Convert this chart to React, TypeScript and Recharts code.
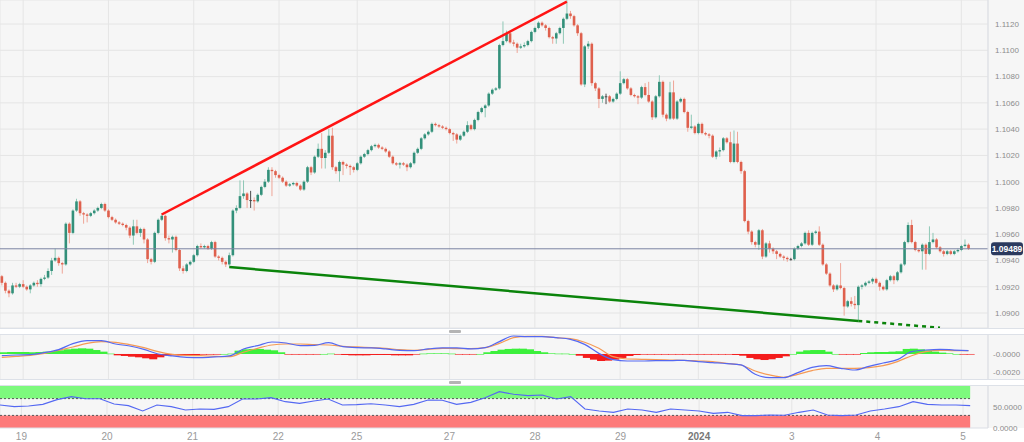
import React from "react";
import {
  Bar,
  CartesianGrid,
  ComposedChart,
  Line,
  ReferenceArea,
  ReferenceLine,
  XAxis,
  YAxis,
} from "recharts";

// EUR/USD hourly candles, 19 Dec 2023 - 5 Jan 2024 (open = previous close)
const firstOpen = 1.0928;

const closes = [
  1.0923, 1.0917, 1.0915, 1.0921, 1.092, 1.0922, 1.092, 1.0918, 1.0921, 1.0923, 1.0922, 1.0926,
  1.0927, 1.0932, 1.094, 1.0942, 1.0938, 1.0937, 1.0968, 1.0961, 1.0978, 1.0985, 1.0976, 1.0975,
  1.0974, 1.0976, 1.0978, 1.098, 1.0983, 1.0978, 1.0973, 1.0971, 1.0969, 1.0968, 1.0967, 1.0965,
  1.0959, 1.0966, 1.0961, 1.0964, 1.0956, 1.0941, 1.0939, 1.0961, 1.0971, 1.0974, 1.0957, 1.0956,
  1.0958, 1.0948, 1.0934, 1.0932, 1.0937, 1.0939, 1.0944, 1.0951, 1.095, 1.0951, 1.0949, 1.0954,
  1.0943, 1.0942, 1.0939, 1.0937, 1.0944, 1.0978, 1.098, 1.0989, 1.0991, 1.0986, 1.0986, 1.0985,
  1.099, 1.0996, 1.1, 1.1009, 1.1008, 1.1005, 1.1003, 1.1, 1.0997, 1.0998, 1.0999, 1.0997,
  1.0994, 1.1, 1.1011, 1.1007, 1.1019, 1.1025, 1.1018, 1.1022, 1.1035, 1.1011, 1.1008, 1.1015,
  1.1013, 1.1012, 1.1011, 1.1009, 1.1014, 1.1019, 1.1021, 1.1024, 1.1027, 1.1028, 1.1026, 1.1025,
  1.1023, 1.1019, 1.1014, 1.1013, 1.1014, 1.1013, 1.1011, 1.1014, 1.1022, 1.1025, 1.1033, 1.1036,
  1.1038, 1.1044, 1.1043, 1.1042, 1.1041, 1.104, 1.1037, 1.1036, 1.1032, 1.1035, 1.1038, 1.1043,
  1.104, 1.1047, 1.1053, 1.1056, 1.1058, 1.1067, 1.107, 1.1071, 1.1104, 1.1107, 1.1113, 1.1106,
  1.1105, 1.1102, 1.1103, 1.1104, 1.1107, 1.1114, 1.1117, 1.1121, 1.1119, 1.1117, 1.111, 1.1109,
  1.1113, 1.1117, 1.1124, 1.1128, 1.1126, 1.1119, 1.1113, 1.1074, 1.1103, 1.1105, 1.1075, 1.1071,
  1.1063, 1.1065, 1.1065, 1.1061, 1.1063, 1.1067, 1.1075, 1.1078, 1.1071, 1.1066, 1.1065, 1.1064,
  1.1072, 1.1066, 1.1061, 1.1049, 1.1065, 1.1076, 1.1051, 1.1048, 1.1068, 1.1048, 1.1061, 1.1063,
  1.1053, 1.1041, 1.1042, 1.1037, 1.1044, 1.1037, 1.1036, 1.1035, 1.1019, 1.1023, 1.1024, 1.1033,
  1.103, 1.1015, 1.1029, 1.1015, 1.1008, 1.097, 1.0962, 1.0954, 1.0952, 1.0963, 1.0943, 1.0953,
  1.0949, 1.0947, 1.0945, 1.0943, 1.0942, 1.0941, 1.0941, 1.0949, 1.0951, 1.0953, 1.0961, 1.0952,
  1.0961, 1.0962, 1.0952, 1.0937, 1.093, 1.0921, 1.0918, 1.0921, 1.0919, 1.0905, 1.0909, 1.0907,
  1.0906, 1.092, 1.0921, 1.0923, 1.0924, 1.0926, 1.0923, 1.092, 1.0918, 1.0925, 1.0928, 1.0925,
  1.0931, 1.0937, 1.0954, 1.0967, 1.0954, 1.0948, 1.0947, 1.0952, 1.0945, 1.0954, 1.0956, 1.095,
  1.0947, 1.0945, 1.0947, 1.0945, 1.0947, 1.0948, 1.0951, 1.0952, 1.09489,
];

const highs = [
  1.0929, 1.0924, 1.0918, 1.0923, 1.0923, 1.0923, 1.0925, 1.0921, 1.0922, 1.0924, 1.0925, 1.0927,
  1.0929, 1.0934, 1.0942, 1.0949, 1.0943, 1.0939, 1.0969, 1.0969, 1.0979, 1.0987, 1.0986, 1.0977,
  1.0976, 1.0977, 1.0979, 1.0981, 1.0984, 1.0984, 1.0979, 1.0974, 1.0972, 1.097, 1.0969, 1.0968,
  1.0966, 1.0971, 1.0971, 1.0965, 1.0965, 1.0957, 1.0942, 1.0962, 1.0972, 1.0976, 1.0975, 1.0959,
  1.0959, 1.0959, 1.0949, 1.0936, 1.0938, 1.094, 1.0945, 1.0952, 1.0953, 1.0952, 1.0952, 1.0955,
  1.0955, 1.0944, 1.0943, 1.094, 1.0946, 1.0979, 1.0982, 1.1001, 1.1001, 1.0992, 1.0993, 1.0988,
  1.0991, 1.0997, 1.1002, 1.1011, 1.1011, 1.1009, 1.1006, 1.1004, 1.1001, 1.0999, 1.1, 1.1,
  1.0998, 1.1001, 1.1012, 1.1012, 1.102, 1.1029, 1.1037, 1.1024, 1.104, 1.1041, 1.1012, 1.1016,
  1.1016, 1.1014, 1.1013, 1.1012, 1.1015, 1.102, 1.1022, 1.1025, 1.1028, 1.1029, 1.1029, 1.1027,
  1.1026, 1.1024, 1.102, 1.1015, 1.1015, 1.1015, 1.1014, 1.1015, 1.1023, 1.1026, 1.1034, 1.1037,
  1.1039, 1.1045, 1.1045, 1.1044, 1.1043, 1.1042, 1.1041, 1.1038, 1.1037, 1.1036, 1.1039, 1.1046,
  1.1044, 1.1048, 1.1054, 1.1057, 1.1059, 1.1068, 1.1071, 1.1072, 1.1105, 1.1122, 1.1115, 1.1114,
  1.1108, 1.1106, 1.1105, 1.1106, 1.1108, 1.1115, 1.1118, 1.1122, 1.1122, 1.112, 1.1118, 1.1111,
  1.1114, 1.1118, 1.1125, 1.1138, 1.113, 1.1127, 1.112, 1.1114, 1.1104, 1.1107, 1.1106, 1.1076,
  1.1072, 1.1066, 1.1067, 1.1066, 1.1064, 1.1068, 1.1084, 1.1079, 1.1079, 1.1072, 1.1067, 1.1066,
  1.1073, 1.1075, 1.1076, 1.1062, 1.1066, 1.1081, 1.1077, 1.1052, 1.1076, 1.1077, 1.1062, 1.1064,
  1.1064, 1.1054, 1.1051, 1.1043, 1.1045, 1.1045, 1.1038, 1.1037, 1.1036, 1.1024, 1.1026, 1.1034,
  1.1034, 1.1038, 1.1039, 1.1038, 1.1016, 1.1009, 1.0971, 1.0963, 1.0955, 1.0964, 1.0964, 1.0954,
  1.0955, 1.095, 1.0948, 1.0946, 1.0944, 1.0943, 1.0942, 1.095, 1.0952, 1.0954, 1.0962, 1.0963,
  1.0962, 1.0963, 1.0966, 1.0953, 1.0938, 1.0931, 1.0922, 1.0922, 1.0938, 1.092, 1.091, 1.0912,
  1.0913, 1.0921, 1.0922, 1.0924, 1.0925, 1.0927, 1.0927, 1.0924, 1.0921, 1.0926, 1.0929, 1.0929,
  1.0932, 1.0938, 1.0955, 1.0969, 1.0971, 1.0955, 1.0949, 1.0953, 1.0953, 1.0966, 1.0961, 1.0957,
  1.0951, 1.0948, 1.0948, 1.0948, 1.0948, 1.0949, 1.0952, 1.0956, 1.0953,
];

const lows = [
  1.0921, 1.0915, 1.0912, 1.0914, 1.0919, 1.0919, 1.0919, 1.0917, 1.0915, 1.092, 1.092, 1.092,
  1.0925, 1.0926, 1.0929, 1.0939, 1.0936, 1.093, 1.0936, 1.0953, 1.096, 1.0977, 1.0974, 1.0968,
  1.0969, 1.0973, 1.0975, 1.0977, 1.0979, 1.0977, 1.0972, 1.097, 1.0968, 1.0967, 1.0966, 1.0963,
  1.0957, 1.0952, 1.096, 1.0958, 1.0953, 1.0938, 1.0937, 1.0938, 1.096, 1.097, 1.0955, 1.0953,
  1.0946, 1.0947, 1.0932, 1.093, 1.0931, 1.0936, 1.0938, 1.0943, 1.0949, 1.0949, 1.0948, 1.0948,
  1.0942, 1.094, 1.0937, 1.0935, 1.0936, 1.0943, 1.0976, 1.0979, 1.0987, 1.098, 1.098, 1.0978,
  1.0984, 1.0989, 1.0995, 1.0999, 1.0989, 1.1003, 1.1002, 1.0999, 1.0996, 1.0996, 1.0997, 1.0996,
  1.0993, 1.0993, 1.0999, 1.1005, 1.1006, 1.1018, 1.101, 1.101, 1.1021, 1.1009, 1.1006, 1.1,
  1.1005, 1.101, 1.1005, 1.1007, 1.1008, 1.1013, 1.1018, 1.102, 1.1023, 1.1026, 1.1025, 1.1024,
  1.1022, 1.1018, 1.1013, 1.1012, 1.101, 1.1012, 1.1008, 1.101, 1.1013, 1.1021, 1.1024, 1.1032,
  1.1035, 1.1037, 1.1042, 1.1041, 1.104, 1.1039, 1.1036, 1.1031, 1.1029, 1.1031, 1.1034, 1.1037,
  1.1039, 1.1039, 1.1046, 1.1052, 1.1049, 1.1057, 1.1066, 1.1069, 1.107, 1.1103, 1.1106, 1.1105,
  1.1103, 1.1098, 1.1101, 1.1102, 1.1103, 1.1106, 1.1113, 1.1116, 1.1118, 1.1115, 1.1109, 1.1105,
  1.1105, 1.1112, 1.1105, 1.1123, 1.1124, 1.1118, 1.1111, 1.1073, 1.1072, 1.1101, 1.1073, 1.1069,
  1.1056, 1.106, 1.1059, 1.106, 1.106, 1.1062, 1.1066, 1.1074, 1.107, 1.1065, 1.1064, 1.1059,
  1.1063, 1.1065, 1.106, 1.1047, 1.1048, 1.1064, 1.1049, 1.1046, 1.1047, 1.1047, 1.1047, 1.106,
  1.1052, 1.1038, 1.104, 1.1036, 1.1036, 1.1036, 1.1035, 1.1033, 1.1018, 1.1017, 1.1019, 1.1023,
  1.1029, 1.1014, 1.1014, 1.1014, 1.1006, 1.0969, 1.096, 1.0952, 1.095, 1.0948, 1.0941, 1.0942,
  1.0946, 1.0945, 1.0941, 1.0942, 1.094, 1.0939, 1.094, 1.094, 1.0948, 1.095, 1.0952, 1.0951,
  1.0951, 1.096, 1.0951, 1.0936, 1.0929, 1.092, 1.0916, 1.0917, 1.0918, 1.0898, 1.0904, 1.0905,
  1.0903, 1.0894, 1.0918, 1.092, 1.0922, 1.0922, 1.0922, 1.0917, 1.0917, 1.0917, 1.0924, 1.0922,
  1.0924, 1.093, 1.0936, 1.0953, 1.0953, 1.0947, 1.0946, 1.0933, 1.0933, 1.0944, 1.0953, 1.0949,
  1.0946, 1.0943, 1.0944, 1.0944, 1.0944, 1.0946, 1.0947, 1.095, 1.0948,
];

const lastPrice = 1.09489;
const priceTicks = [1.09, 1.092, 1.094, 1.096, 1.098, 1.1, 1.102, 1.104, 1.106, 1.108, 1.11, 1.112];

const dayLabels = ["19", "20", "21", "22", "25", "27", "28", "29", "2024", "3", "4", "5"];
const dayTickIndex = [6, 30, 54, 78, 100, 126, 150, 174, 196, 222, 246, 270];

// trend lines (candle index, price)
const resistance = [{ x: 45, y: 1.0975 }, { x: 159, y: 1.1137 }];
const support = [{ x: 64, y: 1.0935 }, { x: 241, y: 1.0894 }];
const supportProjection = [{ x: 241, y: 1.0894 }, { x: 264, y: 1.08888 }];

// MACD, read every 4th candle; histogram every 2nd candle
const MACD_STEP = 4;
const macdLine = [
  -0.00019, -0.00011, -0.00007, 0.00015, 0.00048, 0.00115, 0.00148, 0.00148, 0.00111, 0.00089, 0.00052, 0,
  -0.00022, -0.00037, -0.00041, -0.00033, -0.00022, 0.00056, 0.00093, 0.00133, 0.00122, 0.00093, 0.00096, 0.00126,
  0.00081, 0.0007, 0.00067, 0.00056, 0.00041, 0.00037, 0.00056, 0.00067, 0.00067, 0.00056, 0.0007, 0.00137,
  0.002, 0.00192, 0.00192, 0.00181, 0.00163, 0.00107, 0.00007, -0.00063, -0.00078, -0.00078, -0.00074, -0.00074,
  -0.0007, -0.00085, -0.00096, -0.00107, -0.00122, -0.00226, -0.00263, -0.00263, -0.00207, -0.00148, -0.0013, -0.00159,
  -0.00178, -0.00137, -0.001, -0.00063, 0.00026, 0.00044, 0.00052, 0.00044, 0.00037,
];
const signalLine = [
  -0.00037, -0.00026, -0.00015, 0.00007, 0.00041, 0.00078, 0.00118, 0.00137, 0.0013, 0.00104, 0.0007, 0.00026,
  -0.00004, -0.00015, -0.00019, -0.00026, -0.0003, 0.00019, 0.00063, 0.001, 0.00111, 0.00111, 0.00104, 0.001,
  0.00085, 0.00078, 0.0007, 0.00063, 0.00048, 0.00041, 0.00052, 0.00063, 0.00059, 0.00059, 0.0007, 0.00118,
  0.00181, 0.00196, 0.00196, 0.00181, 0.0017, 0.0013, 0.00063, -0.0003, -0.00056, -0.00059, -0.00063, -0.00067,
  -0.0007, -0.00078, -0.00085, -0.00104, -0.00122, -0.00189, -0.00233, -0.00259, -0.00226, -0.00185, -0.00159, -0.00159,
  -0.00159, -0.00152, -0.0013, -0.00085, -0.00019, 0.00026, 0.00041, 0.00037, 0.00037,
];
const HIST_STEP = 2;
const histogram = [
  0.00019, 0.00022, 0.00022, 0.00022, 0.00019, 0.00022, 0.00026, 0.00033, 0.00041, 0.00052,
  0.00059, 0.00063, 0.00059, 0.00044, 0.00026, 0.00004, -0.00015, -0.00022, -0.0003, -0.00037,
  -0.00048, -0.00059, -0.00037, -0.00019, -0.00015, -0.00015, -0.00015, -0.00011, -0.00007, -0.00004,
  -0.00004, 0, 0.00004, 0.00037, 0.00052, 0.00056, 0.00056, 0.00048, 0.00041, 0.00019,
  -0.00004, -0.00007, -0.00007, -0.00007, -0.00004, 0, 0.00004, -0.00007, -0.00011, -0.00015,
  -0.00015, -0.00015, -0.00011, -0.00011, -0.00011, -0.00015, -0.00015, -0.00015, -0.00007, 0.00004,
  0.00007, 0.00007, 0.00007, 0.00004, -0.00004, -0.00004, -0.00004, 0, 0.00019, 0.00033,
  0.00048, 0.00056, 0.00059, 0.00059, 0.00052, 0.00033, 0.00019, 0.00007, 0.00004, 0.00004,
  0, -0.00019, -0.00044, -0.00063, -0.00078, -0.00074, -0.00063, -0.00044, -0.00022, -0.00011,
  -0.00007, -0.00007, -0.00007, -0.00007, -0.00004, -0.00007, -0.00007, -0.00004, -0.00007, -0.00007,
  -0.00007, -0.00007, -0.00007, -0.00011, -0.00019, -0.00044, -0.00059, -0.00067, -0.00059, -0.00044,
  -0.00026, 0, 0.00026, 0.00041, 0.00044, 0.00044, 0.00026, 0, -0.00007, -0.00007,
  -0.00007, 0.00011, 0.00019, 0.00022, 0.00022, 0.00026, 0.0003, 0.00056, 0.00059, 0.00052,
  0.00041, 0.00026, 0.00015, 0.00007, 0, -0.00004, -0.00004,
];
const macdTicks = [-0.002, 0];
const macdTickLabels = ["-0.0020", "-0.0000"];

// RSI, read every 4th candle
const RSI_STEP = 4;
const rsiLine = [
  54.8, 50.8, 52.4, 56.3, 67.5, 74.6, 69.8, 69.8, 57.1, 53.2, 40.5, 54.8,
  50.8, 42.9, 45.2, 44.4, 50.8, 69, 69, 72.2, 62.7, 58.7, 64.3, 69,
  54.8, 55.6, 57.9, 54.8, 50.8, 56.3, 66.7, 65.9, 56.3, 61.1, 72.2, 86.5,
  80.2, 77, 78.6, 69, 74.6, 45.2, 40.5, 37.3, 45.2, 42.9, 37.3, 45.2,
  42.9, 40.5, 34.9, 37.3, 29.4, 29.4, 31, 30.2, 37.3, 42.9, 31, 29.4,
  31, 40.5, 45.2, 50.8, 62.7, 56.3, 54.8, 54.8, 53.2,
];
const rsiTicks = [0, 50];
const rsiTickLabels = ["0.0000", "50.0000"];

const SLOTS = 278;
const FONT = "'Liberation Sans', Arial, sans-serif";
const UP = "#33907a";
const UP_WICK = "#8fc8b6";
const DOWN = "#df604d";
const DOWN_WICK = "#efa597";
const GRID = "#e5e5e5";

const pick = (arr: number[], step: number, i: number) =>
  i % step === 0 && i / step < arr.length ? arr[i / step] : null;

const rows = Array.from({ length: SLOTS }, (_, i) => {
  const has = i < closes.length;
  return {
    i,
    open: has ? (i === 0 ? firstOpen : closes[i - 1]) : null,
    close: has ? closes[i] : null,
    high: has ? highs[i] : null,
    low: has ? lows[i] : null,
    range: has ? [lows[i], highs[i]] : null,
    macd: pick(macdLine, MACD_STEP, i),
    signal: pick(signalLine, MACD_STEP, i),
    hist: pick(histogram, HIST_STEP, i),
    rsi: pick(rsiLine, RSI_STEP, i),
  };
});

const lastIndex = closes.length - 1;

function Candle(props: any) {
  const { x, y, width, height, payload } = props;
  if (!payload || payload.close == null) return null;
  const { open, close, high, low } = payload;
  const top = Math.min(y, y + height);
  const h = Math.abs(height);
  const span = high - low || 1e-6;
  const toY = (p: number) => top + ((high - p) / span) * h;
  const cx = x + width / 2;
  const bTop = toY(Math.max(open, close));
  const bBot = toY(Math.min(open, close));
  const flat = Math.abs(close - open) < 0.00002;
  const up = close > open;
  const body = flat ? "#4b4b4b" : up ? UP : DOWN;
  const wick = flat ? "#4b4b4b" : up ? UP_WICK : DOWN_WICK;
  return (
    <g>
      <line x1={cx} x2={cx} y1={Math.min(top, bTop)} y2={Math.max(top + h, bBot)} stroke={wick} strokeWidth={1} />
      <rect x={cx - 1.3} y={bTop} width={2.6} height={Math.max(bBot - bTop, 1)} fill={body} />
    </g>
  );
}

function HistBar(props: any) {
  const { x, y, width, height, payload } = props;
  if (!payload || payload.hist == null) return null;
  const top = Math.min(y, y + height);
  const h = Math.max(Math.abs(height), 0.6);
  return <rect x={x} y={top} width={width * HIST_STEP} height={h} fill={payload.hist >= 0 ? "#3cf03c" : "#f41c1c"} />;
}

function PriceTag(props: any) {
  const vb = props.viewBox;
  if (!vb) return null;
  const x = vb.x + vb.width + 3;
  const y = vb.y;
  return (
    <g>
      <rect x={x} y={y - 6.5} width={32} height={13} rx={3} fill="#2b3a5e" />
      <text x={x + 16} y={y + 3} textAnchor="middle" fontSize={8.5} fontWeight={700} fill="#fff" fontFamily={FONT}>
        {lastPrice.toFixed(5)}
      </text>
    </g>
  );
}

function DayTick(props: any) {
  const { x, y, payload } = props;
  const label = dayLabels[dayTickIndex.indexOf(payload.value)];
  const year = label === "2024";
  return (
    <text x={x} y={y} dy={12} textAnchor="middle" fontSize={10} fontFamily={FONT} fill={year ? "#777" : "#9a9a9a"} fontWeight={year ? 700 : 400}>
      {label}
    </text>
  );
}

const axisTick = { fontSize: 8, fill: "#8c8c8c", fontFamily: FONT };

function PriceChart() {
  return (
    <ComposedChart width={1024} height={328} data={rows} margin={{ top: 0, right: 0, bottom: 0, left: 0 }}>
      <CartesianGrid stroke={GRID} />
      <XAxis dataKey="i" type="category" hide ticks={dayTickIndex} interval={0} />
      <YAxis
        orientation="right"
        width={36}
        domain={[1.08886, 1.11383]}
        allowDataOverflow
        ticks={priceTicks}
        interval={0}
        tickFormatter={(v: number) => v.toFixed(4)}
        tick={axisTick}
        tickLine={false}
        tickSize={5}
        tickMargin={2}
        axisLine={{ stroke: "#dcdfe6" }}
      />
      <Bar dataKey="range" shape={Candle} isAnimationActive={false} />
      <ReferenceLine y={lastPrice} stroke="#7b84a2" strokeWidth={1} label={<PriceTag />} />
      <ReferenceLine segment={resistance} stroke="#ff1414" strokeWidth={2.5} ifOverflow="visible" />
      <ReferenceLine segment={support} stroke="#0b840b" strokeWidth={2.5} ifOverflow="visible" />
      <ReferenceLine segment={supportProjection} stroke="#0b840b" strokeWidth={2.5} strokeDasharray="4 4" ifOverflow="visible" />
    </ComposedChart>
  );
}

function MacdChart() {
  return (
    <ComposedChart width={1024} height={44} data={rows} margin={{ top: 0, right: 0, bottom: 0, left: 0 }} barCategoryGap={0} barGap={0}>
      <CartesianGrid stroke={GRID} horizontal={false} />
      <XAxis dataKey="i" type="category" hide ticks={dayTickIndex} interval={0} />
      <YAxis
        orientation="right"
        width={36}
        domain={[-0.00278, 0.00211]}
        allowDataOverflow
        ticks={macdTicks}
        interval={0}
        tickFormatter={(v: number) => macdTickLabels[macdTicks.indexOf(v)] ?? ""}
        tick={axisTick}
        tickLine={false}
        tickSize={4}
        tickMargin={1}
        axisLine={{ stroke: "#dcdfe6" }}
      />
      <Bar dataKey="hist" shape={HistBar} isAnimationActive={false} />
      <Line dataKey="signal" type="monotone" stroke="#f59a55" strokeWidth={1.2} dot={false} connectNulls isAnimationActive={false} />
      <Line dataKey="macd" type="monotone" stroke="#5468f2" strokeWidth={1.2} dot={false} connectNulls isAnimationActive={false} />
    </ComposedChart>
  );
}

function RsiChart() {
  return (
    <ComposedChart width={1024} height={56} data={rows} margin={{ top: 0, right: 0, bottom: 0, left: 0 }}>
      <CartesianGrid stroke={GRID} horizontal={false} />
      <XAxis
        dataKey="i"
        type="category"
        ticks={dayTickIndex}
        interval={0}
        height={14}
        tick={<DayTick />}
        tickLine={false}
        tickSize={0}
        tickMargin={0}
        axisLine={{ stroke: "#dcdfe6" }}
      />
      <YAxis
        orientation="right"
        width={36}
        domain={[0, 100]}
        ticks={rsiTicks}
        interval={0}
        tickFormatter={(v: number) => rsiTickLabels[rsiTicks.indexOf(v)] ?? ""}
        tick={axisTick}
        tickLine={false}
        tickSize={4}
        tickMargin={1}
        axisLine={{ stroke: "#dcdfe6" }}
      />
      <ReferenceArea x1={0} x2={lastIndex} y1={70} y2={100} fill="#7df97d" fillOpacity={1} stroke="none" ifOverflow="visible" />
      <ReferenceArea x1={0} x2={lastIndex} y1={0} y2={30} fill="#fd7a7a" fillOpacity={1} stroke="none" ifOverflow="visible" />
      <ReferenceLine segment={[{ x: 0, y: 70 }, { x: lastIndex, y: 70 }]} stroke="#555" strokeDasharray="2 2" />
      <ReferenceLine segment={[{ x: 0, y: 30 }, { x: lastIndex, y: 30 }]} stroke="#555" strokeDasharray="2 2" />
      <Line dataKey="rsi" type="linear" stroke="#5468f2" strokeWidth={1.1} dot={false} connectNulls isAnimationActive={false} />
    </ComposedChart>
  );
}

const strip = (top: number): React.CSSProperties => ({
  position: "absolute",
  left: 0,
  top,
  width: 1024,
  height: 7,
  background: "#fff",
  borderTop: "1px solid #dde1e8",
  borderBottom: "1px solid #dde1e8",
  boxSizing: "border-box",
});

const handle = (top: number): React.CSSProperties => ({
  position: "absolute",
  left: 449,
  top,
  width: 12,
  height: 3,
  background: "#b4b4b4",
  borderRadius: 1,
});

export default function App() {
  return (
    <div style={{ position: "relative", width: 1024, height: 442, background: "#f6f6f6", overflow: "hidden", fontFamily: FONT }}>
      <style>{"body{margin:0}"}</style>
      <div style={strip(328)} />
      <div style={handle(330)} />
      <div style={strip(379)} />
      <div style={handle(381)} />
      <div style={{ position: "absolute", left: 0, top: 428, width: 1024, height: 14, background: "#fff" }} />
      <div style={{ position: "absolute", left: 0, top: 0 }}>
        <PriceChart />
      </div>
      <div style={{ position: "absolute", left: 0, top: 335 }}>
        <MacdChart />
      </div>
      <div style={{ position: "absolute", left: 0, top: 386 }}>
        <RsiChart />
      </div>
    </div>
  );
}
